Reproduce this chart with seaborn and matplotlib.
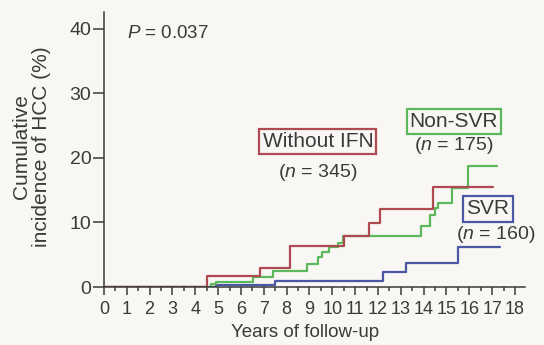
import pandas as pd
import seaborn as sns
import matplotlib.pyplot as plt

# Step curves (years, cumulative incidence %)
ifn_years = [0, 4.5, 6.83, 8.15, 10.5, 11.6, 12.1, 14.4, 17.05]
ifn_pct = [0, 1.7, 2.9, 6.3, 7.9, 9.9, 12.05, 15.5, 15.5]

nonsvr_years = [0, 4.7, 4.9, 6.54, 7.42, 8.9, 9.39, 9.56, 9.84, 10.26, 10.48,
                13.88, 14.28, 14.5, 14.64, 15.23, 15.96, 17.2]
nonsvr_pct = [0, 0.4, 0.8, 1.5, 2.5, 3.55, 4.6, 5.5, 6.2, 6.85, 7.9,
              9.4, 11.2, 12.2, 13.0, 15.4, 18.75, 18.75]

svr_years = [0, 4.93, 7.49, 12.23, 13.23, 15.52, 17.35]
svr_pct = [0, 0.3, 1.0, 2.4, 3.8, 6.2, 6.2]

groups = ['SVR', 'Non-SVR', 'Without IFN']
n_counts = [160, 175, 345]
colors = {'SVR': '#4a58a6', 'Non-SVR': '#5cb85a', 'Without IFN': '#b04a52'}

df = pd.concat([
    pd.DataFrame({'year': svr_years, 'pct': svr_pct, 'group': 'SVR'}),
    pd.DataFrame({'year': nonsvr_years, 'pct': nonsvr_pct, 'group': 'Non-SVR'}),
    pd.DataFrame({'year': ifn_years, 'pct': ifn_pct, 'group': 'Without IFN'}),
])

sns.set_style('ticks')
plt.rcParams['font.family'] = ['Liberation Sans', 'DejaVu Sans']
plt.rcParams['mathtext.fontset'] = 'custom'
plt.rcParams['mathtext.it'] = 'Liberation Sans:italic'
text_col = '#3a3a3a'
bg = '#f8f7f4'

fig = plt.figure(figsize=(5.44, 3.45), dpi=100, facecolor=bg)
ax = fig.add_axes([0.191, 0.168, 0.7745, 0.797], facecolor=bg)

sns.lineplot(data=df, x='year', y='pct', hue='group', hue_order=groups,
             palette=colors, drawstyle='steps-post', linewidth=1.6,
             legend=False, ax=ax)

ax.set_xlim(0, 18.45)
ax.set_ylim(0, 42.6)
ax.set_xticks(range(0, 19))
ax.set_xticks([i + 0.5 for i in range(18)], minor=True)
ax.set_yticks([0, 10, 20, 30, 40])
ax.tick_params(axis='both', colors=text_col, width=1.1)
ax.tick_params(axis='x', which='major', length=6, pad=4, labelsize=13)
ax.tick_params(axis='x', which='minor', length=3, width=1.1, color=text_col)
ax.tick_params(axis='y', length=8, pad=1, labelsize=14)
sns.despine(ax=ax)
for s in ['left', 'bottom']:
    ax.spines[s].set_color(text_col)
    ax.spines[s].set_linewidth(1.1)

ax.set_xlabel('Years of follow-up', fontsize=13.5, color=text_col)
ax.xaxis.set_label_coords(0.477, -0.135)
ax.set_ylabel('Cumulative\nincidence of HCC (%)', fontsize=15, color=text_col,
              linespacing=1.05)
ax.yaxis.set_label_coords(-0.125, 0.51)

ax.text(1.0, 39.3, '$\\mathit{P}$ = 0.037', fontsize=13.5, color=text_col,
        va='center')

# Group labels with coloured boxes
label_pos = {'Without IFN': (9.37, 22.5, 17.7),
             'Non-SVR': (15.33, 25.7, 21.9),
             'SVR': (16.82, 12.1, 8.1)}
for g, n in zip(groups, n_counts):
    x, yb, yn = label_pos[g]
    ax.text(x, yb, g, fontsize=15, color=text_col, ha='center', va='center',
            bbox=dict(boxstyle='square,pad=0.15', fc=bg, ec=colors[g], lw=1.6))
    nx = 17.15 if g == 'SVR' else x
    ax.text(nx, yn, '($\\mathit{n}$ = %d)' % n, fontsize=14, color=text_col,
            ha='center', va='center')

fig.savefig('out.png', dpi=100, facecolor=bg)
plt.close()
